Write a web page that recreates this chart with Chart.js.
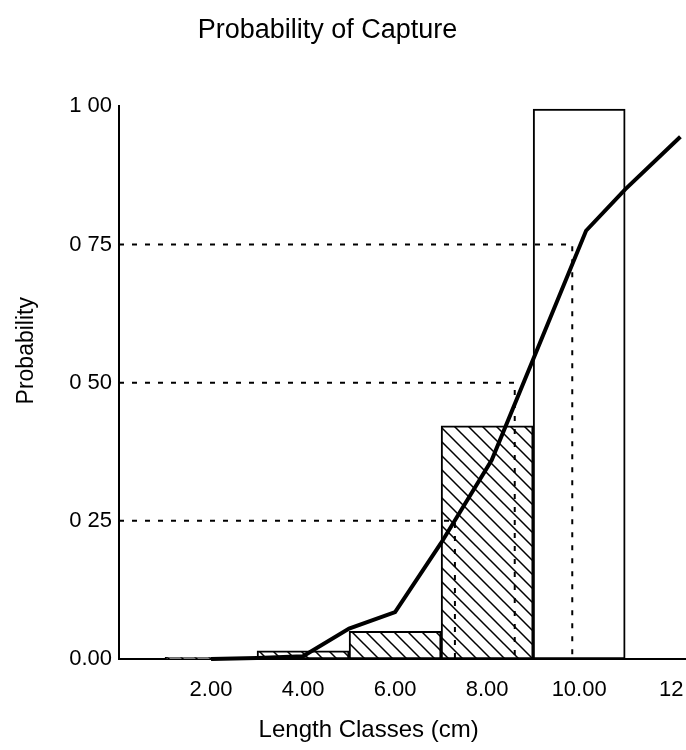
<!DOCTYPE html>
<html>
<head>
<meta charset="utf-8">
<script src="https://cdn.jsdelivr.net/npm/chart.js@4"></script>
<style>
html, body { margin: 0; padding: 0; background: #fff; }
</style>
</head>
<body>
<canvas id="captureChart" width="686" height="750"></canvas>
<script>
// length classes (bar centres) and proportion retained in each class
const lengthClasses = [2, 4, 6, 8, 10];
const classProportion = [0.003, 0.015, 0.05, 0.422, 0.995];
const classHatched = [true, true, true, true, false];

// fitted probability of capture curve
const curveLength = [2, 3, 4, 5, 6, 7, 8.1, 10.15, 11, 12.2];
const curveProbability = [0, 0.002, 0.005, 0.055, 0.085, 0.21, 0.36, 0.775, 0.85, 0.945];

// dashed reading lines (L25, L50, L75)
const refProbability = [0.25, 0.50, 0.75];
const refLength = [7.3, 8.6, 9.85];

const xTickValues = [2, 4, 6, 8, 10, 12];
const xTickLabels = ["2.00", "4.00", "6.00", "8.00", "10.00", "12"];
const yTickValues = [0, 0.25, 0.5, 0.75, 1];
const yTickLabels = ["0.00", "0 25", "0 50", "0 75", "1 00"];

document.addEventListener("DOMContentLoaded", function () {
    const canvas = document.getElementById("captureChart");
    const ctx = canvas.getContext("2d");

    // diagonal "\" hatch used on the shaded bars
    function makeHatch() {
        const size = 14;
        const c = document.createElement("canvas");
        c.width = size;
        c.height = size;
        const g = c.getContext("2d");
        g.fillStyle = "#fff";
        g.fillRect(0, 0, size, size);
        g.strokeStyle = "#000";
        g.lineWidth = 1.5;
        g.beginPath();
        g.moveTo(-2, -2); g.lineTo(size + 2, size + 2);
        g.moveTo(-2, size - 2); g.lineTo(2, size + 2);
        g.moveTo(size - 2, -2); g.lineTo(size + 2, 2);
        g.stroke();
        return ctx.createPattern(c, "repeat");
    }
    const hatch = makeHatch();

    Chart.defaults.font.family = "'Liberation Sans', Arial, sans-serif";
    Chart.defaults.color = "#000";

    const refSets = refProbability.map(function (p, i) {
        return {
            type: 'line',
            data: [{x: 0, y: p}, {x: refLength[i], y: p}, {x: refLength[i], y: 0}],
            borderColor: '#000',
            borderWidth: 2,
            borderDash: [5, 8],
            pointRadius: 0,
            fill: false,
            order: 1
        };
    });

    new Chart(ctx, {
        type: 'bar',
        data: {
            datasets: [{
                type: 'line',
                data: curveLength.map((x, i) => ({x: x, y: curveProbability[i]})),
                borderColor: '#000',
                borderWidth: 4,
                pointRadius: 0,
                tension: 0,
                fill: false,
                clip: false,
                order: 0
            }, ...refSets, {
                type: 'bar',
                data: lengthClasses.map((x, i) => ({x: x, y: classProportion[i]})),
                backgroundColor: classHatched.map(h => h ? hatch : '#fff'),
                borderColor: '#000',
                borderWidth: 2,
                borderSkipped: false,
                barPercentage: 1,
                categoryPercentage: 1,
                order: 2
            }]
        },
        options: {
            responsive: false,
            animation: false,
            layout: {padding: {left: 0, right: 1, top: 0, bottom: 0}},
            plugins: {
                legend: {display: false},
                tooltip: {enabled: false},
                title: {
                    display: true,
                    text: 'Probability of Capture    ',
                    color: '#000',
                    font: {size: 27, weight: 'normal'},
                    padding: {top: 14, bottom: 60}
                }
            },
            scales: {
                x: {
                    type: 'linear',
                    min: 0,
                    max: 12.3,
                    offset: false,
                    grid: {display: false, drawTicks: false},
                    border: {display: true, color: '#000', width: 2},
                    afterBuildTicks: function (s) {
                        s.ticks = xTickValues.map(v => ({value: v}));
                    },
                    ticks: {
                        autoSkip: false,
                        maxRotation: 0,
                        padding: 18,
                        font: {size: 22},
                        callback: (v, i) => xTickLabels[i]
                    },
                    title: {
                        display: true,
                        text: 'Length Classes (cm)          ',
                        font: {size: 24},
                        padding: {top: 0, bottom: 5}
                    },
                    afterFit: function (s) {
                        s.height = 91;
                        s.paddingLeft = 0;
                        s.paddingRight = 0;
                    }
                },
                y: {
                    min: 0,
                    max: 1,
                    grid: {display: false, drawTicks: false},
                    border: {display: true, color: '#000', width: 2},
                    afterBuildTicks: function (s) {
                        s.ticks = yTickValues.map(v => ({value: v}));
                    },
                    ticks: {
                        padding: 7,
                        font: {size: 22},
                        callback: (v, i) => yTickLabels[i]
                    },
                    title: {
                        display: true,
                        text: '          Probability',
                        font: {size: 23},
                        padding: {top: 13, bottom: 0}
                    },
                    afterFit: function (s) { s.width = 119; }
                }
            }
        }
    });
});
</script>
</body>
</html>
